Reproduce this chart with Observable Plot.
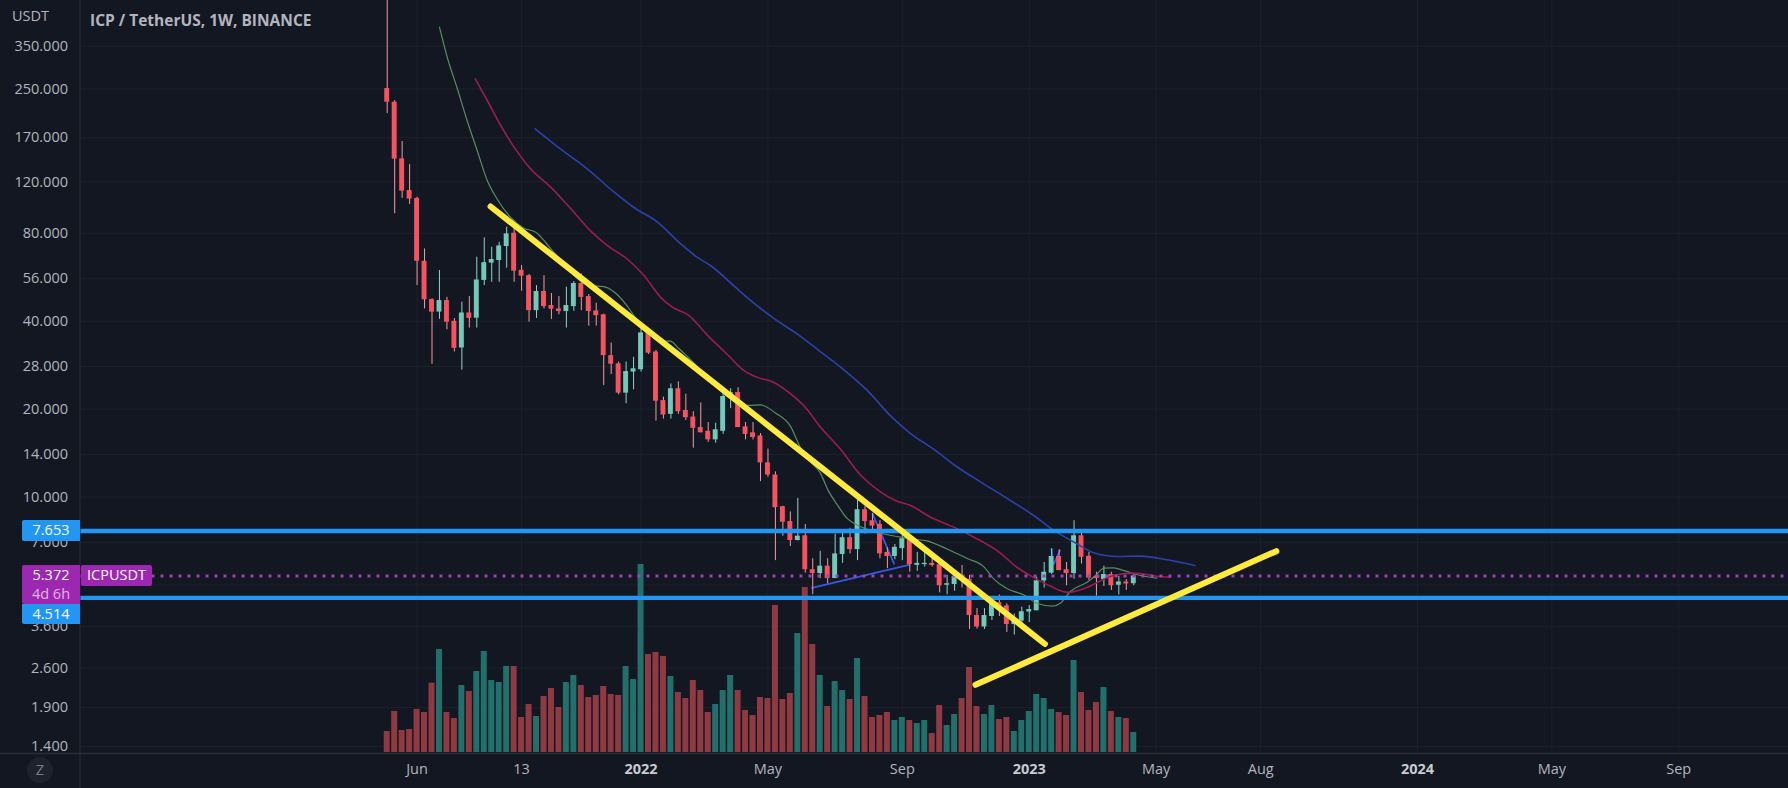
<!DOCTYPE html>
<html>
<head>
<meta charset="utf-8">
<script src="https://cdn.jsdelivr.net/npm/d3@7"></script>
<script src="https://cdn.jsdelivr.net/npm/@observablehq/plot@0.6"></script>
<style>
html,body{margin:0;padding:0;background:#131722;overflow:hidden;font-family:"Open Sans",sans-serif}
#wrap{position:relative;width:1788px;height:788px}
#chart svg{display:block}
.tag{position:absolute;color:#fff;font-size:14.5px;line-height:20px;text-align:center;box-sizing:border-box}
</style>
</head>
<body>
<div id="wrap"><div id="chart"></div></div>
<script>
// Weekly candles, week 0 = 10 May 2021 (USDT)
const opens = [250.7,225,144,112.2,105.4,64.2,47.5,43.0,47.1,40.0,
32.4,42.7,41.0,55.2,63.3,64.6,72.1,80.1,59.8,57.3,
43.5,50.6,45.3,44.1,43.2,44.9,53.9,48.6,43.4,42.1,
30.5,28.6,22.7,26.8,27.3,36.5,31.4,21.4,19.2,23.5,
19.8,18.8,17.3,16.8,15.7,16.8,21.9,22.8,17.4,16.6,
16.2,13.1,11.9,9.27,8.25,7.1,7.37,5.64,5.47,5.8,
5.26,6.36,7.26,6.61,9.05,8.3,8.06,6.46,6.26,6.66,
7.2,5.84,5.87,5.93,5.87,4.99,5.02,5.35,5.23,3.93,
3.59,3.9,4.35,4.24,3.66,3.76,4.04,4.08,5.16,5.49,
6.26,5.64,5.47,7.37,6.27,5.35,5.22,5.43,4.99,5.12,5.05];
const closes = [225,143.6,111.6,104.8,64.2,47.4,43.0,47.1,39.7,32.3,
42.7,40.9,55.4,63.5,65.1,72.5,79.7,59.4,57.1,43.5,
50.6,44.9,44.0,43.2,45.3,53.9,48.3,43.2,41.8,30.5,
28.5,22.7,26.9,27.5,36.5,31.1,21.3,19.1,23.5,19.6,
18.7,17.2,16.6,15.7,17.0,22.1,22.8,17.3,16.4,16.0,
13.1,11.9,9.2,8.2,7.1,7.35,5.64,5.47,5.8,5.26,
6.39,7.26,6.61,9.05,8.25,7.96,6.39,6.26,6.73,7.2,
5.87,5.93,5.93,5.83,4.97,5.05,5.35,5.23,3.93,3.59,
3.93,4.35,4.22,3.66,3.78,4.05,4.12,5.17,5.53,6.26,
5.6,5.47,7.37,6.22,5.28,5.26,5.43,4.97,5.12,5.04,5.372];
const highs = [600,228,165.1,137.6,106.4,70.8,47.7,59.7,48.3,40.9,
46.5,48.6,66.3,77.2,71.7,74.6,84.0,85.8,62.1,57.8,
53.0,57.3,49.8,48.6,52.3,54.7,58.1,49.4,46.1,42.3,
33.7,29.0,29.0,30.1,37.7,37.7,31.8,22.0,24.4,24.8,
22.5,19.6,21.0,18.0,17.9,22.6,23.5,23.7,18.0,18.0,
16.5,14.6,12.2,9.3,8.9,9.9,8.06,6.15,6.52,6.15,
7.47,7.63,7.82,9.73,9.3,8.8,8.3,6.7,6.88,7.43,
7.37,6.47,6.56,6.2,5.9,5.39,5.43,5.83,5.39,4.15,
4.15,4.48,4.62,4.31,3.98,4.2,4.25,5.32,5.97,6.65,
6.6,5.97,8.3,7.53,6.47,5.53,5.8,5.53,5.35,5.22,5.47];
const lows = [205.8,93.4,105.4,100.5,53.0,44.1,28.5,40.6,37.4,31.4,
27.2,37.9,37.9,53.0,54.4,54.4,60.8,54.4,50.7,39.7,
40.9,44.1,40.6,42.1,37.9,43.3,43.5,38.5,38.5,24.1,
26.3,22.4,20.9,23.3,26.8,30.8,18.2,18.5,18.5,19.2,
18.3,14.7,16.6,15.4,15.3,16.4,20.1,17.3,15.7,15.7,
11.3,11.7,6.06,7.34,6.77,7.08,5.49,4.63,5.26,5.05,
5.26,5.93,6.39,6.06,7.47,7.63,6.15,5.69,6.1,6.06,
5.53,5.57,5.76,5.76,4.7,4.63,4.76,4.88,3.52,3.53,
3.52,3.78,3.9,3.44,3.37,3.63,3.72,4.08,4.88,5.43,
5.6,4.97,5.23,5.9,5.19,4.58,4.94,4.79,4.62,4.79,4.97];
// Volume, relative units
const volumes = [6.3,12.3,6.6,6.9,12.9,12.0,20.8,30.9,12.0,10.2,
20.1,18.3,24.3,30.3,21.6,21.0,25.8,25.8,10.5,14.4,
10.8,16.8,19.2,13.5,21.0,23.1,20.1,16.5,17.1,19.8,
17.4,17.1,25.8,21.9,56.4,29.4,30.0,28.8,22.8,18.0,
16.2,21.6,18.6,12.0,14.4,18.6,23.1,18.6,12.6,11.1,
16.5,16.2,44.1,15.9,17.7,35.7,49.5,32.4,23.1,13.8,
21.3,18.6,15.9,28.2,16.8,10.5,11.1,12.0,9.6,10.5,
9.6,8.7,9.6,5.7,14.1,8.1,11.4,16.2,25.5,13.8,
11.4,14.1,9.9,10.5,6.3,9.6,12.3,17.4,16.2,12.9,
12.0,11.1,27.6,18.0,12.6,15.0,19.5,12.3,10.5,10.2,6.0];

// Moving averages (week, price)
const maFastWeeks = [7,8.04,9.4,10.7,12.05,13.4,14.7,16.5,18.3,19.9,21.2,22.3,27.2,29,30.8,32.1,33.5,37,37.9,39.1,48.4,50,52,54,55.4,56.7,58,59.1,60.3,61.6,62.5,70.1,72.3,75,77.7,79.9,81.2,83,85.3,87.1,89.1,90.2,91.5,93.8,94.9,96,97.3,98.7,100.9,103.1];
const maFastPrices = [406.6,320.9,250.2,194.8,153.8,121.4,105.1,90.9,83.3,80.7,74.6,69,53,52.6,49.4,45.3,40.3,34.2,34.2,32.2,20.6,20.7,19.4,17.5,14.7,13.2,12.1,10.5,9.4,8.45,8.14,7.2,7.08,6.64,6.16,5.78,5.26,4.86,4.62,4.32,4.23,4.34,4.75,5.12,5.39,5.71,5.72,5.6,5.39,5.28];
const maMidWeeks = [11.8,13.4,15.2,17,19.2,21.9,24.6,27.2,29.5,32.1,34.4,36.6,38.2,40.4,42.9,45.5,47.8,49.6,51.8,54,56,58,60.7,63.4,66.1,68.3,70.1,72.8,75.9,78.6,81.7,84.4,86.6,88.8,91.2,93.8,95.5,97.3,100,100.9,103.1,104.9];
const maMidPrices = [270.7,228.1,187.3,157.9,133.1,115.2,97.1,81.8,72.7,65.5,57.4,48.4,44.7,41.9,35.8,30.9,27.1,25.7,24.7,22.6,20.3,17.4,14.6,11.9,10.4,9.68,9.36,8.53,7.89,7.29,6.56,5.74,5.3,4.96,4.72,4.91,5.16,5.39,5.49,5.47,5.36,5.32];
const maSlowWeeks = [19.8,23.2,26.8,30.4,33,36.2,39.3,41.5,43.3,46.4,48.7,52.2,54.9,57.8,60.7,64.3,67.4,70.1,73.2,76.3,79.9,83.5,86.6,89.3,92,94.6,97.8,100.9,104.5,108.2];
const maSlowPrices = [182.5,155.9,133.1,110.7,98.3,87.4,73.7,66.3,62.1,53,47.1,40.2,36.2,31.8,27.9,23.2,19,16.5,14.6,12.7,11.1,9.73,8.65,7.69,7.01,6.45,6.26,6.28,6.1,5.83];

// Drawn annotations (week, price)
const yellowLines = [
  [{w:13.84,p:98.9},{w:88.1,p:3.14}],
  [{w:78.8,p:2.275},{w:119.1,p:6.53}]
];
const blueLines = [
  [{w:56.9,p:4.89},{w:69.9,p:5.86}],
  [{w:65,p:8.77},{w:67.9,p:5.91}],
  [{w:89,p:6.65},{w:89.1,p:5.9}],
  [{w:89.3,p:5.9},{w:90.1,p:6.56}]
];
const levels = [7.653,4.514];
const lastPrice = 5.372;

// Axis ticks
const priceGrid = [350,250,170,120,80,56,40,28,20,14,10,7,5,3.6,2.6,1.9,1.4];
const priceLabels = [350,250,170,120,80,56,40,28,20,14,10,7,3.6,2.6,1.9,1.4];
const monthTicks = [4,18,51,69,103,117,156,173];
const monthLabels = ["Jun","13","May","Sep","May","Aug","May","Sep"];
const yearTicks = [34,86,138];
const yearLabels = ["2022","2023","2024"];

const W = 1788, H = 788, ML = 79.5, MB = 35;
const xDomain = [-41.15,187.7];
const yDomain = [1.324,501.9];
const C = {bg:"#131722",grid:"#1c202b",frame:"#2a2e39",text:"#b2b5be",
  up:"#72c9ba",down:"#f7525f",upWick:"#8fd5c8",downWick:"#f39aa2",
  volUp:"#22706b",volDown:"#8f3a42"};

const weeks = d3.range(opens.length);
const isUp = i => closes[i] >= opens[i];
const volumePane = () => Plot.plot({
  width:W,height:H,marginLeft:ML,marginRight:0,marginTop:0,marginBottom:MB,
  style:{background:"transparent"},
  x:{domain:xDomain,axis:null},
  y:{domain:[0,56.4],range:[752,564],axis:null},
  marks:[Plot.rect(weeks,{x1:i=>i-0.4,x2:i=>i+0.4,y1:0,y2:i=>volumes[i],fill:i=>isUp(i)?C.volUp:C.volDown})]
});
const pts = (ws,ps)=>ws.map((w,i)=>({w,p:ps[i]}));
const maLine = (ws,ps,stroke,strokeWidth)=>Plot.line(pts(ws,ps),{x:"w",y:"p",stroke,strokeWidth,curve:"monotone-x"});

const plot = Plot.plot({
  width:W,height:H,marginLeft:ML,marginRight:0,marginTop:0,marginBottom:MB,
  style:{background:C.bg,fontFamily:'"Open Sans",sans-serif'},
  x:{domain:xDomain,axis:null},
  y:{type:"log",domain:yDomain,axis:null},
  marks:[
    Plot.gridY(priceGrid,{stroke:C.grid,strokeOpacity:1}),
    Plot.gridX([...monthTicks,...yearTicks],{stroke:C.grid,strokeOpacity:1}),
    volumePane,
    ...blueLines.map(l=>Plot.line(l,{x:"w",y:"p",stroke:"#3558e8",strokeWidth:1.8})),
    Plot.ruleX(weeks,{x:i=>i,y1:i=>lows[i],y2:i=>highs[i],stroke:i=>isUp(i)?C.upWick:C.downWick,strokeWidth:1,clip:true}),
    Plot.rect(weeks,{x1:i=>i-0.33,x2:i=>i+0.33,y1:i=>opens[i],y2:i=>closes[i],fill:i=>isUp(i)?C.up:C.down}),
    maLine(maFastWeeks,maFastPrices,"#558f63",1.2),
    maLine(maMidWeeks,maMidPrices,"#9c1c4e",1.6),
    maLine(maSlowWeeks,maSlowPrices,"#2b42aa",1.6),
    Plot.ruleY([lastPrice],{stroke:"#a040b8",strokeWidth:3,strokeDasharray:"3 6"}),
    Plot.ruleY(levels,{stroke:"#2196f3",strokeWidth:4.3}),
    ...yellowLines.map(l=>Plot.line(l,{x:"w",y:"p",stroke:"#ffeb3b",strokeWidth:6,strokeLinecap:"round"})),
    Plot.text(priceLabels,{y:d=>d,text:d=>d.toFixed(3),frameAnchor:"left",dx:-12,textAnchor:"end",fill:C.text,fontSize:14.5}),
    Plot.axisX({ticks:monthTicks,tickFormat:d=>monthLabels[monthTicks.indexOf(d)],tickSize:0,tickPadding:10,label:null,fill:C.text,fontSize:14.5}),
    Plot.axisX({ticks:yearTicks,tickFormat:d=>yearLabels[yearTicks.indexOf(d)],tickSize:0,tickPadding:10,label:null,fill:"#c8cbd3",fontSize:14.5,fontWeight:"bold"}),
    Plot.ruleY([yDomain[0]],{stroke:C.frame,strokeWidth:1.5,insetLeft:-ML}),
    Plot.ruleX([xDomain[0]],{stroke:C.frame,strokeWidth:1,insetBottom:-MB})
  ]
});
document.getElementById("chart").appendChild(plot);

// Chrome over the chart: title, unit, price tags, Z button
const y = plot.scale("y");
const wrap = document.getElementById("wrap");
function tag(text,left,top,width,height,bg,extra){
  const d=document.createElement("div");d.className="tag";d.innerHTML=text;
  d.style.cssText=`left:${left}px;top:${top}px;width:${width}px;height:${height}px;background:${bg};${extra||""}`;
  wrap.appendChild(d);return d;
}
tag("ICP / TetherUS, 1W, BINANCE",90,10,260,20,"transparent",`color:${C.text};font-weight:700;font-size:15.5px;text-align:left`);
tag("USDT",12,6,44,20,"transparent",`color:${C.text};text-align:left;font-size:14.5px`);
const yHi=y.apply(levels[0]), yLast=y.apply(lastPrice);
tag(levels[0].toFixed(3),22,yHi-10.5,58,21,"#2196f3","border-radius:2px 0 0 2px;font-weight:500");
tag(`${lastPrice.toFixed(3)}<br><span style="color:#e3b5ec">4d 6h</span>`,22,yLast-10,58,39,"#9c27b0","line-height:19px;border-radius:2px 0 0 2px");
tag(levels[1].toFixed(3),22,yLast+29,58,20,"#2196f3","border-radius:0 0 0 2px");
tag("ICPUSDT",81,yLast-10,71,21,"#9c27b0","border-radius:2px");
tag("Z",27,757,26,26,"#1e222d","border-radius:50%;color:#787b86;line-height:26px");
</script>
</body>
</html>
